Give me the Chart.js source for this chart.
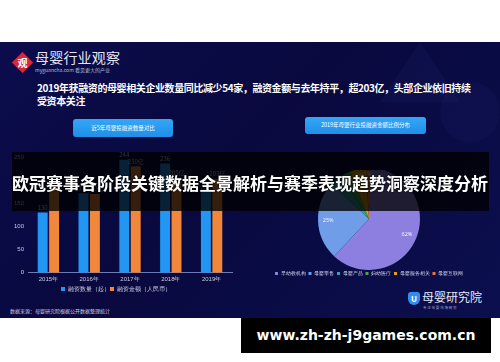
<!DOCTYPE html>
<html><head><meta charset="utf-8">
<script src="https://cdn.jsdelivr.net/npm/chart.js@4.4.1/dist/chart.umd.min.js"></script>
<style>
html,body{margin:0;padding:0;background:#fff;width:500px;height:362px;overflow:hidden;font-family:"Noto Sans CJK SC","Noto Sans",sans-serif;}
.abs{position:absolute;}
#slide{left:0;top:42px;width:500px;height:276px;background:linear-gradient(135deg,#0b0c4c 0%,#09093f 45%,#0b0f4e 100%);overflow:hidden;}
.deco{position:absolute;background:rgba(40,50,120,0.18);}
#logoDia{left:15px;top:55px;width:15px;height:15px;background:#d8283c;transform:rotate(45deg);}
#logoChar{left:14px;top:54px;width:17px;height:17px;color:#fff;font-size:10px;line-height:17px;text-align:center;font-weight:bold;}
#logoText{left:35px;top:49px;color:#e6e7f2;font-size:14px;line-height:16px;letter-spacing:0.2px;}
#logoSub{left:35px;top:66px;color:#b8bbd4;font-size:5px;line-height:7px;white-space:nowrap;}
#head{left:37px;top:81px;color:#fff;font-size:10px;line-height:13px;font-weight:bold;white-space:nowrap;letter-spacing:-0.4px;}
.btn{position:absolute;background:linear-gradient(180deg,#35a6f6,#1f8fe8);border-radius:3px;color:#fff;font-size:5.5px;text-align:center;}
#overlay{left:12px;top:152px;width:477px;height:59px;background:rgba(0,0,0,0.78);}
#title{left:12px;top:171px;width:478px;color:#fff;font-size:17px;line-height:24px;font-weight:bold;white-space:nowrap;text-shadow:0 0 2px #000;}
#src{left:10px;top:307px;color:#c9cce0;font-size:5px;line-height:7px;white-space:nowrap;}
#icon{left:408px;top:292px;width:12px;height:13px;background:#2f8ff0;border-radius:3px 3px 6px 6px;color:#fff;font-size:8px;line-height:13px;text-align:center;font-weight:bold;}
#brand{left:422px;top:290px;color:#e8e9f3;font-size:12px;line-height:14px;white-space:nowrap;}
#brandSub{left:423px;top:305px;color:#a8abc8;font-size:3.5px;line-height:5px;white-space:nowrap;}
#footer{left:241px;top:318px;width:250px;height:35px;background:#000;color:#fff;font-family:"DejaVu Sans",sans-serif;font-weight:bold;font-size:14px;line-height:35px;text-align:center;}
canvas{position:absolute;}
</style></head>
<body>
<div id="slide" class="abs">
  <div class="deco" style="left:380px;top:0;width:0;height:0;background:none;border-left:40px solid transparent;border-right:40px solid transparent;border-bottom:60px solid rgba(40,50,120,0.15);"></div>
  <div class="deco" style="left:440px;top:40px;width:60px;height:60px;border-radius:50%;background:rgba(40,50,120,0.12);"></div>
</div>
<div id="logoDia" class="abs"></div>
<div id="logoChar" class="abs">观</div>
<div id="logoText" class="abs">母婴行业观察</div>
<div id="logoSub" class="abs">myguancha.com 看见更大的产业</div>
<div id="head" class="abs">2019年获融资的母婴相关企业数量同比减少54家，融资金额与去年持平，超203亿，头部企业依旧持续<br>受资本关注</div>
<div class="btn" style="left:73px;top:119px;width:100px;height:18px;line-height:18px;">近5年母婴投融资数量对比</div>
<div class="btn" style="left:305px;top:117px;width:121px;height:17px;line-height:17px;">2019年母婴行业投融资金额比例分布</div>
<canvas id="bar" width="245" height="154" style="left:0;top:148px;width:245px;height:154px;"></canvas>
<canvas id="pie" width="230" height="116" style="left:254px;top:170px;width:230px;height:116px;"></canvas>
<div id="src" class="abs">数据来源：母婴研究院根据公开数据整理统计</div>
<div id="icon" class="abs">U</div>
<div id="brand" class="abs">母婴研究院</div>
<div id="brandSub" class="abs">专 注 母 婴 市 场 研 究</div>
<div id="overlay" class="abs"></div>
<div id="title" class="abs">欧冠赛事各阶段关键数据全景解析与赛季表现趋势洞察深度分析</div>
<div id="footer" class="abs">www.zh-zh-j9games.com.cn</div>
<script>
const years = ['2015年','2016年','2017年','2018年','2019年'];
const dealCounts = [130, 172, 244, 236, 182];
const dealAmounts = [182, 170, 230, 205, 203];
const yTicks = [0, 50, 100, 150, 200, 250];
const sectors = ['早幼教机构','母婴零售','母婴产品','妇幼医疗','母婴服务相关','母婴互联网'];
const sectorShares = [62, 25, 4, 3, 5, 1];
const sectorColors = ['#8c7fe0','#6f9de8','#2aa9a6','#4aa84e','#e3a20a','#f0722c'];

const barLabels = {
  id:'barLabels',
  afterDatasetsDraw(chart){
    const ctx = chart.ctx;
    ctx.save();
    ctx.font = '6px "Noto Sans CJK SC", sans-serif';
    ctx.fillStyle = '#c9cce2';
    ctx.textAlign = 'center';
    ctx.textBaseline = 'bottom';
    chart.data.datasets.forEach((ds, di) => {
      chart.getDatasetMeta(di).data.forEach((el, i) => {
        const t = di === 0 ? String(ds.data[i]) : ds.data[i] + '亿';
        ctx.fillText(t, el.x, el.y - 2);
      });
    });
    ctx.restore();
  }
};

new Chart(document.getElementById('bar'), {
  type:'bar',
  data:{labels:years, datasets:[
    {label:'融资数量（起）', data:dealCounts, backgroundColor:'#2196f3', categoryPercentage:0.56, barPercentage:0.87},
    {label:'融资金额（人民币）', data:dealAmounts, backgroundColor:'#f0873a', categoryPercentage:0.56, barPercentage:0.87}
  ]},
  options:{
    responsive:false, animation:false, devicePixelRatio:1,
    layout:{padding:{top:9, right:13, left:0, bottom:0}},
    scales:{
      x:{grid:{display:false, drawTicks:false}, border:{color:'#6f7bb5'}, ticks:{color:'#c8cbe0', font:{size:6}, padding:3}},
      y:{min:0, max:250, afterBuildTicks(s){ s.ticks = yTicks.map(v=>({value:v})); },
         ticks:{color:'#c8cbe0', font:{size:6}, padding:4}, grid:{display:false, drawTicks:false}, border:{display:false},
         afterFit(s){ s.width = 28; }}
    },
    plugins:{legend:{position:'bottom', labels:{color:'#d0d3e8', font:{size:6}, boxWidth:4, boxHeight:4, padding:0}}, tooltip:{enabled:false}}
  },
  plugins:[barLabels]
});

const pieLabels = {
  id:'pieLabels',
  afterDatasetsDraw(chart){
    const ctx = chart.ctx;
    ctx.save();
    ctx.font = '5.5px "Noto Sans", sans-serif';
    ctx.fillStyle = '#f2f2fa';
    ctx.textAlign = 'center';
    ctx.textBaseline = 'middle';
    const ds = chart.data.datasets[0];
    chart.getDatasetMeta(0).data.forEach((arc, i) => {
      const a = (arc.startAngle + arc.endAngle) / 2;
      const r = arc.outerRadius * (ds.data[i] < 10 ? 0.88 : 0.8);
      ctx.fillText(ds.data[i] + '%', arc.x + Math.cos(a) * r, arc.y + Math.sin(a) * r);
    });
    ctx.restore();
  }
};

new Chart(document.getElementById('pie'), {
  type:'pie',
  data:{labels:sectors, datasets:[{data:sectorShares, backgroundColor:sectorColors, borderWidth:0, radius:51}]},
  options:{
    responsive:false, animation:false, devicePixelRatio:1,
    layout:{padding:{top:0, bottom:0}},
    plugins:{legend:{position:'bottom', labels:{color:'#d0d3e8', font:{size:5}, boxWidth:3, boxHeight:3, padding:3}}, tooltip:{enabled:false}}
  },
  plugins:[pieLabels]
});
</script>
</body></html>
